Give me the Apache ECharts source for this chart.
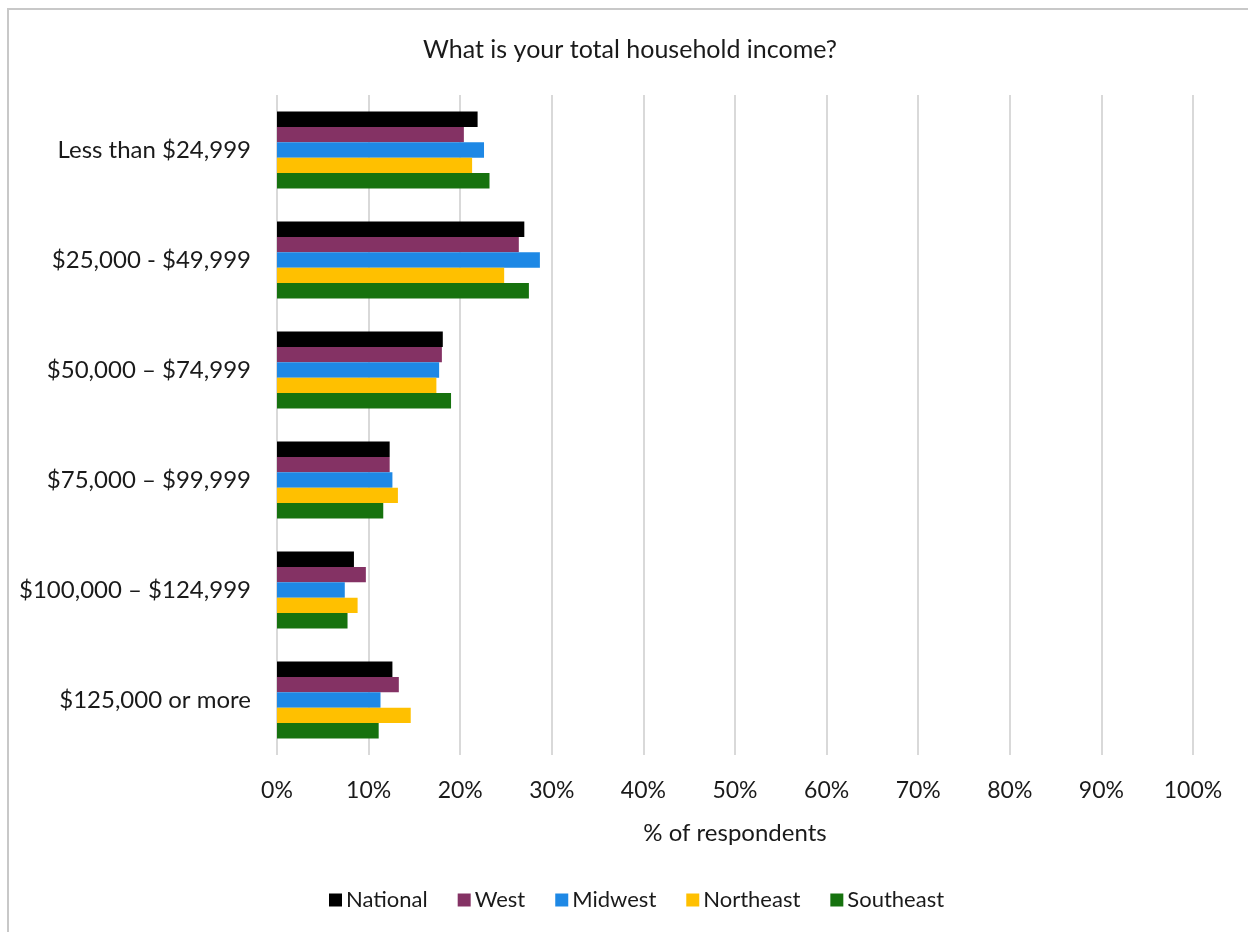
<!DOCTYPE html>
<html>
<head>
<meta charset="utf-8">
<script src="https://cdn.jsdelivr.net/npm/echarts@6/dist/echarts.min.js"></script>
<style>
  html, body { margin: 0; padding: 0; background: #ffffff; }
  #chart { width: 1248px; height: 932px; }
</style>
</head>
<body>
<div id="chart"></div>
<script>
// Income brackets, top to bottom
const categories = [
  'Less than $24,999',
  '$25,000 - $49,999',
  '$50,000 \u2013 $74,999',
  '$75,000 \u2013 $99,999',
  '$100,000 \u2013 $124,999',
  '$125,000 or more'
];

// Share of respondents (%) per region
const national  = [21.9, 27.0, 18.1, 12.3, 8.4, 12.6];
const west      = [20.4, 26.4, 18.0, 12.3, 9.7, 13.3];
const midwest   = [22.6, 28.7, 17.7, 12.6, 7.4, 11.3];
const northeast = [21.3, 24.8, 17.4, 13.2, 8.8, 14.6];
const southeast = [23.2, 27.5, 19.0, 11.6, 7.7, 11.1];

const seriesNames = ['National', 'West', 'Midwest', 'Northeast', 'Southeast'];
const seriesData = [national, west, midwest, northeast, southeast];
const seriesColors = ['#000000', '#843264', '#1E88E5', '#FFC000', '#16720E'];

const FONT = 'Lato, "Noto Sans", sans-serif';
const TEXT = '#1a1a1a';

const chart = echarts.init(document.getElementById('chart'), null, { renderer: 'canvas' });

chart.setOption({
  backgroundColor: '#ffffff',
  animation: false,
  title: {
    text: 'What is your total household income?',
    left: 625,
    textAlign: 'center',
    top: 32,
    textStyle: { fontFamily: FONT, fontSize: 25, fontWeight: 'normal', color: TEXT }
  },
  legend: {
    data: seriesNames,
    bottom: 16,
    left: 324,
    itemWidth: 13,
    itemHeight: 13,
    itemGap: 30,
    icon: 'rect',
    textStyle: { fontFamily: FONT, fontSize: 22, color: TEXT, padding: [0, 0, 0, -1] }
  },
  grid: {
    left: 277,
    right: 55,
    top: 95,
    bottom: 177,
    containLabel: false
  },
  xAxis: {
    type: 'value',
    min: 0,
    max: 100,
    interval: 10,
    name: '% of respondents',
    nameLocation: 'middle',
    nameGap: 66,
    nameTextStyle: { fontFamily: FONT, fontSize: 24, color: TEXT },
    axisLabel: {
      formatter: '{value}%',
      fontFamily: FONT,
      fontSize: 23,
      color: TEXT,
      margin: 24
    },
    axisLine: { show: false },
    axisTick: { show: false },
    splitLine: { show: true, lineStyle: { color: '#d9d9d9', width: 2 } }
  },
  yAxis: {
    type: 'category',
    data: categories,
    inverse: true,
    axisLabel: {
      fontFamily: FONT,
      fontSize: 24,
      color: TEXT,
      margin: 26
    },
    axisLine: { show: false },
    axisTick: { show: false },
    splitLine: { show: false }
  },
  graphic: [{
    type: 'rect',
    shape: { x: 8, y: 9, width: 1300, height: 1000 },
    style: { fill: 'none', stroke: '#c8c8c8', lineWidth: 2 },
    silent: true
  }],
  series: seriesNames.map((name, i) => ({
    name: name,
    type: 'bar',
    data: seriesData[i],
    barGap: '0%',
    barCategoryGap: '30%',
    itemStyle: { color: seriesColors[i] }
  }))
});
</script>
</body>
</html>
